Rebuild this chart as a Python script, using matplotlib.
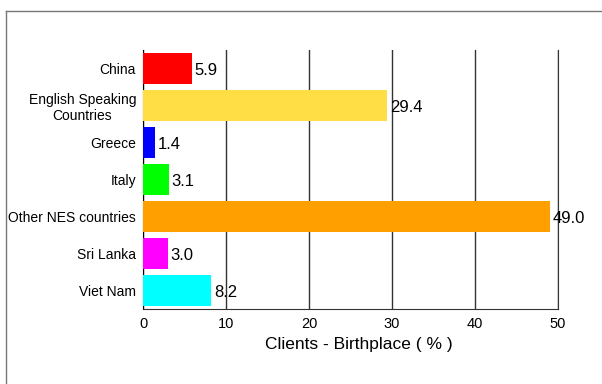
import matplotlib.pyplot as plt
from matplotlib.lines import Line2D

plt.rcParams['font.family'] = ['Liberation Sans', 'DejaVu Sans']

countries = ["China", "English Speaking\nCountries", "Greece", "Italy",
             "Other NES countries", "Sri Lanka", "Viet Nam"]
values = [5.9, 29.4, 1.4, 3.1, 49.0, 3.0, 8.2]
colors = ["#FF0000", "#FFDD44", "#0000FF", "#00FF00", "#FFA000", "#FF00FF", "#00FFFF"]
xticks = [0, 10, 20, 30, 40, 50]

fig = plt.figure(figsize=(6.02, 3.84), dpi=100)
ax = fig.add_axes([143/602, 1 - 309/384, 415/602, 259/384])

y = list(range(len(countries)))
ax.barh(y, values, height=0.84, color=colors, zorder=3)
for yi, v in zip(y, values):
    ax.text(v + 0.35, yi + 0.05, f"{v:.1f}", va="center", ha="left", fontsize=12, zorder=4)

ax.set_xlim(0, 50)
ax.set_ylim(len(countries) - 0.5, -0.5)
ax.set_yticks(y)
ax.set_yticklabels(countries, fontsize=10, ha="right", multialignment="center")
ax.set_xticks(xticks)
ax.set_xticklabels([str(t) for t in xticks], fontsize=10.5)
ax.tick_params(length=0, pad=5)
ax.tick_params(axis="x", pad=6)
ax.grid(axis="x", color="#333333", linewidth=1, zorder=0)
ax.set_xlabel("Clients - Birthplace ( % )", fontsize=12.5)
ax.xaxis.set_label_coords((359 - 143) / 415, -0.11)
ax.xaxis.label.set_va("top")

ax.spines["top"].set_visible(False)
ax.spines["right"].set_color("#333333")
ax.spines["left"].set_color("black")
ax.spines["bottom"].set_color("#333333")

# outer frame
fig.add_artist(Line2D([6/602, 1], [1 - 11/384, 1 - 11/384], color="#777777", lw=1,
                      transform=fig.transFigure))
fig.add_artist(Line2D([6/602, 6/602], [0, 1 - 11/384], color="#777777", lw=1,
                      transform=fig.transFigure))

fig.savefig("out.png", dpi=100)
